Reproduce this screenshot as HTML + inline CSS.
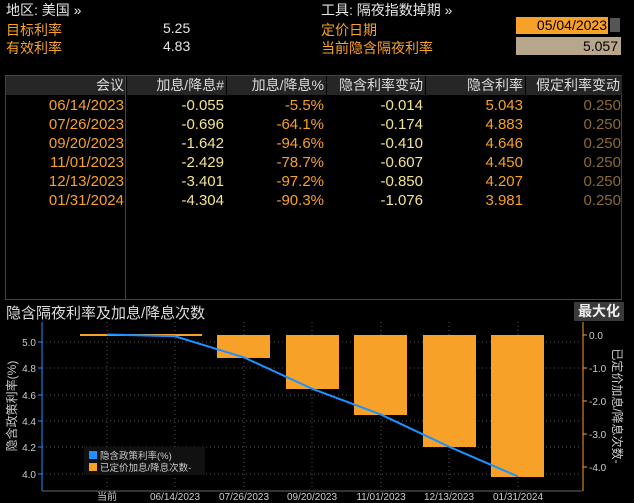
<!DOCTYPE html>
<html><head><meta charset="utf-8"><style>
body{margin:0;width:634px;height:503px;background:#000;overflow:hidden;font-family:"Liberation Sans","Noto Sans CJK SC",sans-serif;position:relative}
.a{position:absolute;white-space:nowrap}
.w{color:#e6e6e6}.o{color:#f7a128}.y{color:#f3e48f}.d{color:#8c6a30}
.t{font-size:14px}
#tbl{position:absolute;left:5px;top:75px;width:617px;height:225px;border:1px solid #444;box-sizing:border-box}
.hd{position:absolute;top:0;height:19px;background:#262626;font-size:14px;color:#ddd;text-align:right;line-height:19px;box-sizing:border-box;padding-right:2px}
.c{position:absolute;text-align:right;font-size:15px;line-height:19px}
</style></head><body>
<div class="a w t" style="left:6px;top:0px">地区: 美国 »</div>
<div class="a o t" style="left:6px;top:20px">目标利率</div>
<div class="a w t" style="left:163px;top:20px">5.25</div>
<div class="a o t" style="left:6px;top:38px">有效利率</div>
<div class="a w t" style="left:163px;top:38px">4.83</div>
<div class="a w t" style="left:321px;top:0px">工具: 隔夜指数掉期 »</div>
<div class="a o t" style="left:321px;top:20px">定价日期</div>
<div class="a o t" style="left:321px;top:38px">当前隐含隔夜利率</div>
<div class="a" style="left:516px;top:17px;width:92px;height:17px;background:#f7a128;color:#000;font-size:14px;text-align:right;line-height:17px;padding-right:1px;box-sizing:border-box">05/04/2023</div>
<div class="a" style="left:610px;top:18px;width:10px;height:14px;background:#555"></div>
<div class="a" style="left:516px;top:37px;width:105px;height:18px;background:#b7a58c;color:#000;font-size:14px;text-align:right;line-height:18px;padding-right:3px;box-sizing:border-box">5.057</div>

<div id="tbl">
<div class="hd" style="left:0;width:120px">会议</div>
<div class="hd" style="left:121px;width:99px">加息/降息#</div>
<div class="hd" style="left:221px;width:99px">加息/降息%</div>
<div class="hd" style="left:321px;width:98px">隐含利率变动</div>
<div class="hd" style="left:420px;width:99px">隐含利率</div>
<div class="hd" style="left:520px;width:96px">假定利率变动</div>
<div style="position:absolute;left:119px;top:0;width:1px;height:224px;background:#444"></div>
<div class="c o" style="left:0;width:118px;top:20px">06/14/2023<br>07/26/2023<br>09/20/2023<br>11/01/2023<br>12/13/2023<br>01/31/2024</div>
<div class="c y" style="left:121px;width:97px;top:20px">-0.055<br>-0.696<br>-1.642<br>-2.429<br>-3.401<br>-4.304</div>
<div class="c o" style="left:221px;width:97px;top:20px">-5.5%<br>-64.1%<br>-94.6%<br>-78.7%<br>-97.2%<br>-90.3%</div>
<div class="c y" style="left:321px;width:96px;top:20px">-0.014<br>-0.174<br>-0.410<br>-0.607<br>-0.850<br>-1.076</div>
<div class="c o" style="left:420px;width:97px;top:20px">5.043<br>4.883<br>4.646<br>4.450<br>4.207<br>3.981</div>
<div class="c d" style="left:520px;width:95px;top:20px">0.250<br>0.250<br>0.250<br>0.250<br>0.250<br>0.250</div>
</div>

<div class="a" style="left:6px;top:302px;font-size:15px;color:#ddd">隐含隔夜利率及加息/降息次数</div>
<div class="a" style="left:574px;top:302px;width:50px;height:19px;background:#3a3a3a;color:#eee;font-size:14px;text-align:center;line-height:19px;font-weight:bold">最大化</div>

<svg class="a" style="left:0;top:0" width="634" height="503">
<g stroke="#555" stroke-dasharray="1,3" stroke-width="1">
<line x1="107" y1="322" x2="107" y2="490"/><line x1="175" y1="322" x2="175" y2="490"/><line x1="244" y1="322" x2="244" y2="490"/><line x1="312" y1="322" x2="312" y2="490"/><line x1="381" y1="322" x2="381" y2="490"/><line x1="449" y1="322" x2="449" y2="490"/><line x1="518" y1="322" x2="518" y2="490"/>
<line x1="42" y1="342" x2="582" y2="342"/><line x1="42" y1="368" x2="582" y2="368"/><line x1="42" y1="395" x2="582" y2="395"/><line x1="42" y1="421" x2="582" y2="421"/><line x1="42" y1="447" x2="582" y2="447"/><line x1="42" y1="474" x2="582" y2="474"/>
</g>
<g fill="#f7a128">
<rect x="80" y="334" width="122" height="2"/>
<rect x="217" y="335" width="53" height="23"/>
<rect x="286" y="335" width="53" height="54"/>
<rect x="354" y="335" width="53" height="80"/>
<rect x="423" y="335" width="53" height="112"/>
<rect x="491" y="335" width="53" height="142"/>
</g>
<polyline fill="none" stroke="#1e90ff" stroke-width="2" points="107,334.5 175,336.3 244,357.4 312,388.7 381,414.6 449,446.7 518,476.5"/>
<line x1="42" y1="322" x2="42" y2="491" stroke="#1e90ff"/>
<line x1="42" y1="491" x2="582" y2="491" stroke="#666"/>
<line x1="583" y1="322" x2="583" y2="491" stroke="#f7a128"/>
<g stroke="#1e90ff"><line x1="38" y1="342" x2="42" y2="342"/><line x1="38" y1="368" x2="42" y2="368"/><line x1="38" y1="395" x2="42" y2="395"/><line x1="38" y1="421" x2="42" y2="421"/><line x1="38" y1="447" x2="42" y2="447"/><line x1="38" y1="474" x2="42" y2="474"/></g>
<g stroke="#f7a128"><line x1="583" y1="335" x2="587" y2="335"/><line x1="583" y1="368" x2="587" y2="368"/><line x1="583" y1="401" x2="587" y2="401"/><line x1="583" y1="434" x2="587" y2="434"/><line x1="583" y1="467" x2="587" y2="467"/></g>
<g font-family="Liberation Sans,sans-serif" font-size="10" fill="#ccc" text-anchor="end">
<text x="36" y="346">5.0</text><text x="36" y="372">4.8</text><text x="36" y="399">4.6</text><text x="36" y="425">4.4</text><text x="36" y="451">4.2</text><text x="36" y="478">4.0</text>
</g>
<g font-family="Liberation Sans,sans-serif" font-size="10" fill="#ccc">
<text x="589" y="339">0.0</text><text x="589" y="372">-1.0</text><text x="589" y="405">-2.0</text><text x="589" y="438">-3.0</text><text x="589" y="471">-4.0</text>
</g>
<g font-family="Liberation Sans,Noto Sans CJK SC,sans-serif" font-size="10" fill="#ccc" text-anchor="middle">
<text x="107" y="500">当前</text><text x="175" y="500">06/14/2023</text><text x="244" y="500">07/26/2023</text><text x="312" y="500">09/20/2023</text><text x="381" y="500">11/01/2023</text><text x="449" y="500">12/13/2023</text><text x="518" y="500">01/31/2024</text>
</g>
<text transform="translate(16,406) rotate(-90)" text-anchor="middle" font-family="Liberation Sans,Noto Sans CJK SC,sans-serif" font-size="12" fill="#ccc">隐含政策利率(%)</text>
<text transform="translate(613,406) rotate(90)" text-anchor="middle" font-family="Liberation Sans,Noto Sans CJK SC,sans-serif" font-size="12" fill="#ccc">已定价加息/降息次数-</text>
<rect x="84" y="447" width="121" height="28" fill="#111"/>
<rect x="89" y="451" width="8" height="8" fill="#1e90ff"/>
<rect x="89" y="463" width="8" height="8" fill="#f7a128"/>
<g font-family="Liberation Sans,Noto Sans CJK SC,sans-serif" font-size="9.5" fill="#ccc">
<text x="100" y="459">隐含政策利率(%)</text><text x="100" y="471">已定价加息/降息次数-</text>
</g>
</svg>
</body></html>
